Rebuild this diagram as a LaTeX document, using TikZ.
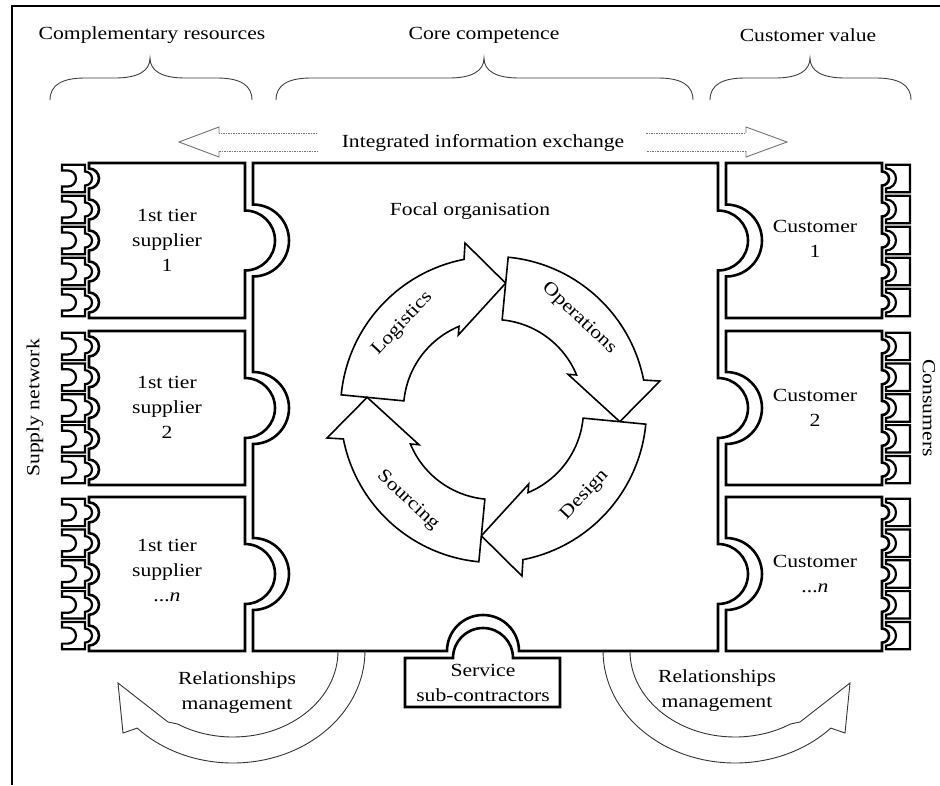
\documentclass[tikz,border=0pt]{standalone}
\usepackage{fontspec}
\setmainfont{Liberation Serif}[FakeStretch=1.17]
\usetikzlibrary{calc}
\begin{document}
\begin{tikzpicture}[x=1pt,y=1pt,
  piece/.style={draw=black,line width=2.6pt,line join=miter},
  tab/.style={draw=black,line width=2.2pt,line join=miter},
  thinline/.style={draw=black!80,line width=0.9pt},
  bracestyle/.style={draw=black!75,line width=0.9pt},
  lbl/.style={font=\fontsize{18.5}{25}\selectfont,align=center,inner sep=0pt},
  ringarrow/.style={draw=black,line width=1.6pt,fill=white,line join=miter},
  infoshaft/.style={draw=black!55,line width=1pt,dash pattern=on 1.5pt off 1pt},
  infohead/.style={draw=black!55,line width=0.9pt},
]
\useasboundingbox (0,0) rectangle (940,-785);
% frame
\draw[line width=1.3pt] (12,-785) -- (12,-6) -- (940,-6);

% headings and braces
\node[lbl] (hcomp) at (152,-35) {Complementary resources};
\node[lbl] (hcore) at (484,-35) {Core competence};
\node[lbl] (hcust) at (808,-35) {Customer value};
\foreach \xa/\xt/\xb in {50/150/252, 276/484/693, 710/810/911} {
  \draw[bracestyle] (\xa,-100) .. controls (\xa,-85) and (\xa+12,-78) .. (\xa+35,-78)
    -- (\xt-35,-78) .. controls (\xt-12,-78) and (\xt,-71) .. (\xt,-58)
    .. controls (\xt,-71) and (\xt+12,-78) .. (\xt+35,-78)
    -- (\xb-35,-78) .. controls (\xb-12,-78) and (\xb,-85) .. (\xb,-100);
}

% integrated information exchange
\node[lbl] (info) at (483,-143) {Integrated information exchange};
\draw[infoshaft] (317,-133) -- (219,-133);
\draw[infoshaft] (219,-151) -- (317,-151);
\draw[infohead] (219,-133) -- (219,-127) -- (179,-142) -- (219,-157) -- (219,-151);
\draw[infoshaft] (646,-133) -- (746,-133);
\draw[infoshaft] (746,-151) -- (646,-151);
\draw[infohead] (746,-133) -- (746,-127) -- (787,-142) -- (746,-157) -- (746,-151);

% focal organisation
\draw[piece] (253,-163) -- (718,-163)
  \foreach \M in {240.5,408,574} { -- (718,-\M+30) arc[start angle=90,end angle=-90,radius=30] }
  -- (718,-651) -- (519,-651) arc[start angle=0,end angle=180,radius=36] -- (253,-651)
  \foreach \M in {574,408,240.5} { -- (253,-\M-36) arc[start angle=-90,end angle=90,radius=36] }
  -- cycle;
\node[lbl] (focal) at (470,-211) {Focal organisation};

% service sub-contractors
\draw[piece] (405,-658) -- (453,-658) arc[start angle=180,end angle=0,radius=30] -- (560,-658)
  -- (560,-707) -- (405,-707) -- cycle;
\node[lbl] (service) at (483,-683) {Service\\sub-contractors};

% suppliers, customers and the small pieces at both ends
\foreach \T/\B in {163/318,331/485,497/651} {
  \pgfmathsetmacro\M{(\T+\B)/2}
  \pgfmathsetmacro\pitch{(\B-\T)/5}
  \draw[piece] (89,-\T) -- (245,-\T) -- (245,-\M+30) arc[start angle=90,end angle=-90,radius=30]
    -- (245,-\B) -- (89,-\B)
    \foreach \j in {4,...,0} { -- (89,{-(\T+(\j+0.5)*\pitch)-10}) arc[start angle=-90,end angle=90,radius=10] }
    -- cycle;
  \draw[piece] (726,-\T) -- (882,-\T)
    \foreach \j in {0,...,4} { -- (882,{-(\T+(\j+0.5)*\pitch)+7}) arc[start angle=90,end angle=-90,radius=7] }
    -- (882,-\B) -- (726,-\B) -- (726,-\M-36) arc[start angle=-90,end angle=90,radius=36] -- cycle;
  \foreach \j in {0,...,4} {
    \pgfmathsetmacro\ptop{\T+\j*\pitch+1.7}
    \pgfmathsetmacro\pbot{\T+(\j+1)*\pitch-1.7}
    \pgfmathsetmacro\pmid{\T+(\j+0.5)*\pitch}
    \draw[tab] (62,-\ptop) -- (85,-\ptop) -- (85,-\pmid+7) arc[start angle=90,end angle=-90,radius=7]
      -- (85,-\pbot) -- (62,-\pbot) -- (62,-\pmid-8) -- (68,-\pmid-8)
      arc[start angle=-90,end angle=90,radius=8] -- (62,-\pmid+8) -- cycle;
    \draw[tab] (886,-\ptop) -- (910,-\ptop) -- (910,-\pbot) -- (886,-\pbot) -- (886,-\pmid-10)
      arc[start angle=-90,end angle=90,radius=10] -- cycle;
  }
}
\node[lbl] (sup1) at (167,-240.5) {1st tier\\supplier\\1};
\node[lbl] (sup2) at (167,-407.5) {1st tier\\supplier\\2};
\node[lbl] (sup3) at (167,-570) {1st tier\\supplier\\...\textit{n}};
\node[lbl] (cus1) at (815,-239) {Customer\\1};
\node[lbl] (cus2) at (815,-407.5) {Customer\\2};
\node[lbl] (cus3) at (815,-573.5) {Customer\\...\textit{n}};

\node[lbl,rotate=90] (supnet) at (35,-408) {Supply network};
\node[lbl,rotate=-90] (consumers) at (929,-408) {Consumers};

% cycle of the four functions
\begin{scope}[shift={(493.5,-409.5)}]
\foreach \k/\name/\flip in {0/Logistics/0,1/Operations/0,2/Design/180,3/Sourcing/180} {
  \pgfmathsetmacro\o{-90*\k}
  \draw[ringarrow] ({174.5+\o}:153) arc[start angle=174.5+\o,end angle=101.1+\o,radius=153]
     -- ({99.7+\o}:168.9) -- ({84.5+\o}:126.9) -- ({115.3+\o}:82.4) -- ({112.55+\o}:90)
     arc[start angle=112.55+\o,end angle=174.5+\o,radius=90] -- cycle;
  \node[lbl,rotate=46.8+\o+\flip] (fn\k) at ({136.8+\o}:125) {\name};
}
\end{scope}

% relationships management arrows
\draw[thinline] (338,-651) arc[start angle=0,end angle=-122,x radius=105,y radius=86]
  -- (168,-722) -- (118,-683) -- (123,-733) -- (137.2,-728.1)
  arc[start angle=-136.5,end angle=0,x radius=132,y radius=112];
\begin{scope}[xshift=968pt,xscale=-1]
\draw[thinline] (338,-651) arc[start angle=0,end angle=-122,x radius=105,y radius=86]
  -- (168,-722) -- (118,-683) -- (123,-733) -- (137.2,-728.1)
  arc[start angle=-136.5,end angle=0,x radius=132,y radius=112];
\end{scope}
\node[lbl] (relL) at (237,-693) {Relationships\\management};
\node[lbl] (relR) at (717,-691) {Relationships\\management};
\end{tikzpicture}
\end{document}
